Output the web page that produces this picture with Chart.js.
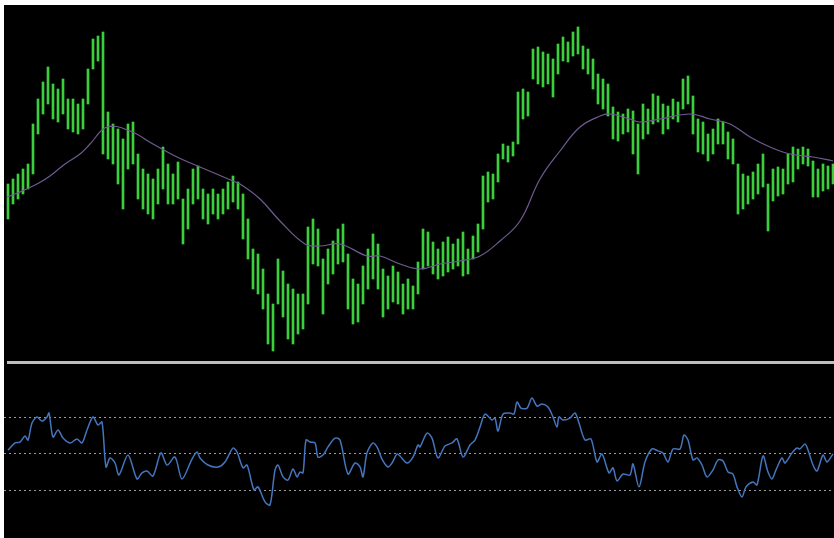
<!DOCTYPE html>
<html>
<head>
<meta charset="utf-8">
<script src="https://cdn.jsdelivr.net/npm/chart.js@4.4.1/dist/chart.umd.min.js"></script>
<style>
  body { margin: 0; background: #fff; width: 834px; height: 538px; overflow: hidden; }
  #panel { position: absolute; left: 4px; top: 5px; width: 830px; height: 533px; background: #000; }
  #priceChart { position: absolute; left: 0; top: 0; }
  #sep { position: absolute; left: 3px; top: 356px; width: 827px; height: 3px; background: #bdbdbd; }
  #oscChart { position: absolute; left: 0; top: 361px; }
</style>
</head>
<body>
<div id="panel">
  <canvas id="priceChart" width="830" height="354"></canvas>
  <div id="sep"></div>
  <canvas id="oscChart" width="830" height="172"></canvas>
</div>
<script>
// price bars, one every 5 time units starting at t=8
const highs = [180,185,190,195,200,240,265,282,297,280,275,285,265,265,260,265,295,325,328,332,
  252,240,235,225,240,242,210,195,190,185,195,217,200,190,202,165,175,195,198,175,
  170,175,170,175,182,188,182,170,145,115,110,95,70,60,105,93,80,75,70,70,
  137,145,135,105,115,123,135,140,110,85,80,98,115,130,120,95,88,98,92,80,
  85,78,102,135,132,122,115,122,127,120,125,132,115,128,140,188,192,190,210,220,
  218,222,272,275,272,315,317,312,310,305,320,327,322,332,337,318,315,305,290,285,
  280,257,252,250,255,253,240,260,255,270,268,260,258,265,262,285,288,268,245,242,
  230,235,245,242,232,225,200,190,188,192,200,210,180,195,197,195,210,217,215,217,
  215,203,195,200,198,200];
const lows = [145,160,165,170,175,190,230,250,260,245,242,250,235,232,230,235,260,295,303,210,
  205,200,180,155,195,200,165,155,150,145,160,175,160,160,165,120,135,160,165,145,
  140,150,145,150,155,162,155,125,105,75,70,55,20,13,60,47,25,20,30,35,
  60,100,98,50,80,90,100,102,55,40,42,60,75,85,75,47,55,62,60,50,
  55,55,70,95,98,90,85,88,92,95,98,88,90,105,112,135,162,165,182,205,
  202,208,220,245,248,285,280,277,280,267,290,303,302,308,310,295,290,275,260,255,
  248,225,223,230,232,210,190,225,230,240,242,230,235,245,242,255,260,230,212,210,
  203,210,220,220,205,200,150,155,160,165,170,177,133,163,168,170,180,182,195,200,
  198,167,167,173,175,180];

// moving average, read at these times
const maTime = [7,20,37,50,65,80,90,107,130,153,177,200,233,240,260,280,305,320,340,367,
  380,400,420,440,460,480,500,520,540,560,580,600,610,630,640,660,690,710,730,750,
  770,790,813,833];
const maValue = [167,172,180,188,200,210,220,237,233,220,207,197,183,180,165,143,120,118,120,108,
  108,100,95,100,103,108,123,143,185,213,237,248,250,245,242,245,250,245,240,227,
  217,210,207,203];

// oscillator, read at these times
const oscTime = [8,15,20,25,28,32,37,42,47,49,53,58,63,70,77,82,87,93,98,102,
  106,110,115,119,128,137,142,147,153,161,167,175,182,192,197,200,208,218,225,233,
  237,243,247,254,258,265,270,275,278,283,288,293,297,300,303,306,310,315,318,323,
  328,335,340,348,355,360,363,367,373,377,382,388,392,397,400,407,413,418,420,427,
  432,438,445,452,457,463,470,475,480,485,492,495,498,503,510,514,517,521,527,532,
  537,542,548,553,557,559,563,570,575,579,585,591,597,602,609,613,617,623,630,633,
  639,645,652,658,663,668,673,680,684,688,693,697,702,707,713,718,723,728,733,737,
  742,746,753,757,763,768,772,776,782,785,792,797,800,805,808,813,817,823,827,833];
const oscValue = [52.2,56.1,56.6,60.0,57.7,67.1,70.5,68.2,70.5,72.7,59.4,63.3,58.8,56.1,58.3,56.1,63.3,70.5,66.0,67.7,
  42.8,47.8,45.0,38.4,49.4,36.2,39.5,40.6,37.8,50.6,43.9,48.3,36.2,47.2,51.1,47.8,43.9,42.8,45.6,53.3,
  51.1,42.3,43.9,30.1,31.8,23.5,21.8,41.2,43.9,37.3,35.6,41.7,37.3,40.0,39.5,57.7,56.6,56.1,48.3,49.4,
  53.9,58.8,57.7,38.9,45.0,42.8,37.3,50.6,56.1,53.9,47.2,42.8,45.0,50.0,48.9,45.0,48.3,55.0,53.9,61.6,
  58.8,47.8,54.4,56.1,58.3,48.3,55.0,57.7,64.9,72.1,68.8,69.9,62.7,72.1,72.7,72.1,78.8,75.4,75.4,81.0,
  76.5,77.7,76.0,70.5,64.9,70.5,68.8,69.9,72.7,67.1,57.7,58.3,45.6,50.0,39.5,42.3,35.1,38.9,38.4,44.5,
  31.8,45.6,52.8,51.7,50.6,45.6,52.8,52.8,60.5,57.7,46.7,47.8,43.9,37.3,41.2,46.7,46.1,40.0,38.9,31.8,
  26.2,31.8,34.5,32.9,48.9,40.0,36.2,41.2,47.8,45.0,50.6,53.3,52.8,55.5,52.2,43.9,40.6,49.4,45.6,50.0];
const oscLevels = [30, 50, 70];

const barData = highs.map((h, i) => ({ x: 8 + i * 5, y: [lows[i], h] }));
const maData = maTime.map((t, i) => ({ x: t, y: maValue[i] }));
const oscData = oscTime.map((t, i) => ({ x: t, y: oscValue[i] }));

const xAxis = { type: "linear", min: 4, max: 834, display: false, offset: false, grid: { offset: false } };

new Chart(document.getElementById("priceChart").getContext("2d"), {
    type: "bar",
    data: {
        datasets: [{
            type: "line",
            data: maData,
            borderColor: "#6f5a92",
            borderWidth: 1.2,
            pointRadius: 0,
            tension: 0.4,
            order: 0
        }, {
            data: barData,
            backgroundColor: "#3ccf3c",
            barThickness: 2,
            order: 1
        }]
    },
    options: {
        responsive: false,
        animation: false,
        layout: { padding: 0 },
        plugins: { legend: { display: false }, tooltip: { enabled: false } },
        scales: {
            x: xAxis,
            y: { min: 5, max: 359, display: false }
        }
    }
});

new Chart(document.getElementById("oscChart").getContext("2d"), {
    type: "line",
    data: {
        datasets: [{
            data: oscData,
            borderColor: "#4475bd",
            borderWidth: 1.5,
            pointRadius: 0,
            tension: 0.3
        }]
    },
    options: {
        responsive: false,
        animation: false,
        layout: { padding: 0 },
        plugins: { legend: { display: false }, tooltip: { enabled: false } },
        scales: {
            x: xAxis,
            y: {
                min: 3.5,
                max: 98.7,
                afterBuildTicks: axis => { axis.ticks = oscLevels.map(v => ({ value: v })); },
                afterFit: axis => { axis.width = 0; },
                ticks: { display: false },
                border: { display: false, dash: [2, 3] },
                grid: { color: "#9a9a9a", drawTicks: false, lineWidth: 1 }
            }
        }
    }
});
</script>
</body>
</html>
